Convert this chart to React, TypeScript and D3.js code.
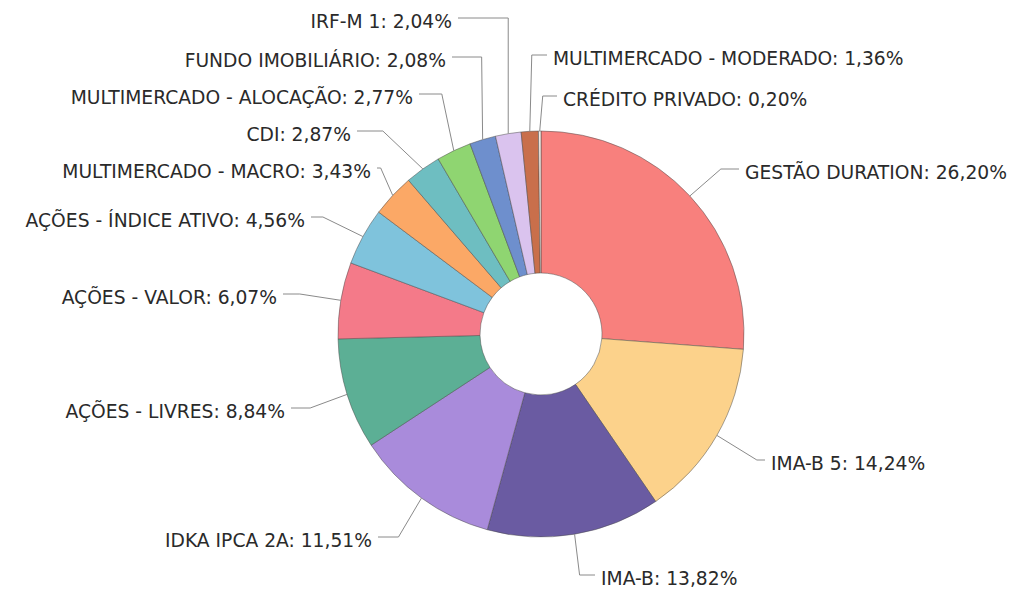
import React from "react";
import * as d3 from "d3";

// fatias da carteira, em % do patrimônio
const categories = [
  "GESTÃO DURATION",
  "IMA-B 5",
  "IMA-B",
  "IDKA IPCA 2A",
  "AÇÕES - LIVRES",
  "AÇÕES - VALOR",
  "AÇÕES - ÍNDICE ATIVO",
  "MULTIMERCADO - MACRO",
  "CDI",
  "MULTIMERCADO - ALOCAÇÃO",
  "FUNDO IMOBILIÁRIO",
  "IRF-M 1",
  "MULTIMERCADO - MODERADO",
  "CRÉDITO PRIVADO",
];
const values = [26.2, 14.24, 13.82, 11.51, 8.84, 6.07, 4.56, 3.43, 2.87, 2.77, 2.08, 2.04, 1.36, 0.2];

const colors = [
  "#f8807d", "#fcd28b", "#6a5ba2", "#a98bdb", "#5caf95", "#f47a89", "#7fc3dc",
  "#fba866", "#6ebec1", "#8fd571", "#6e8fcd", "#dac3ee", "#c96f4b", "#f6ebe3",
];

// posição dos rótulos: lado, x do texto, y do texto, deslocamento do cotovelo
const labelLayout: [string, number, number, number][] = [
  ["start", 745, 172, 31],
  ["start", 771, 463, 40],
  ["start", 601, 578, 5],
  ["end", 372, 540, -23],
  ["end", 285, 411, -37],
  ["end", 277, 297, -41],
  ["end", 305, 220, -40],
  ["end", 371, 171, -12],
  ["end", 351, 134, -40],
  ["end", 413, 97, -12],
  ["end", 446, 60, -1],
  ["end", 452, 21, 0],
  ["start", 553, 58, 2],
  ["start", 563, 99, 3],
];

const width = 1019;
const height = 593;
const cx = 541;
const cy = 334;
const outerR = 203;
const innerR = 61;

const fmt = (v: number) => d3.format(".2f")(v).replace(".", ",") + "%";

export default function App() {
  const data = categories.map((c, i) => ({ cat: c, value: values[i], i }));
  const pie = d3.pie<any>().sort(null).value((d) => d.value).startAngle(0).endAngle(2 * Math.PI);
  const arcs = pie(data);
  const arc = d3.arc<any>().innerRadius(innerR).outerRadius(outerR);

  return (
    <svg
      width={width}
      height={height}
      style={{ position: "absolute", left: 0, top: 0, background: "#fff" }}
      fontFamily="'DejaVu Sans', Verdana, sans-serif"
      fontSize={18.7}
    >
      <g transform={`translate(${cx},${cy})`}>
        {arcs.map((a, i) => (
          <path key={i} d={arc(a) || ""} fill={colors[i]} stroke="#4a4a4a" strokeWidth={0.7} strokeOpacity={0.7} />
        ))}
      </g>
      {arcs.map((a, i) => {
        const [side, tx, ty, edx] = labelLayout[i];
        const mid = (a.startAngle + a.endAngle) / 2;
        const px = cx + outerR * Math.sin(mid);
        const py = cy - outerR * Math.cos(mid);
        const ly = ty - 3;
        const ex = px + edx;
        const hx = side === "start" ? tx - 6 : tx + 6;
        const pts: [number, number][] = [[px, py], [ex, ly], [hx, ly]];
        return (
          <g key={"l" + i}>
            <path d={d3.line()(pts) || ""} fill="none" stroke="#8a8a8a" strokeWidth={1} />
            <text x={tx} y={ty} dy="0.35em" textAnchor={side} fill="#2a2a2a">
              {`${categories[i]}: ${fmt(values[i])}`}
            </text>
          </g>
        );
      })}
    </svg>
  );
}
